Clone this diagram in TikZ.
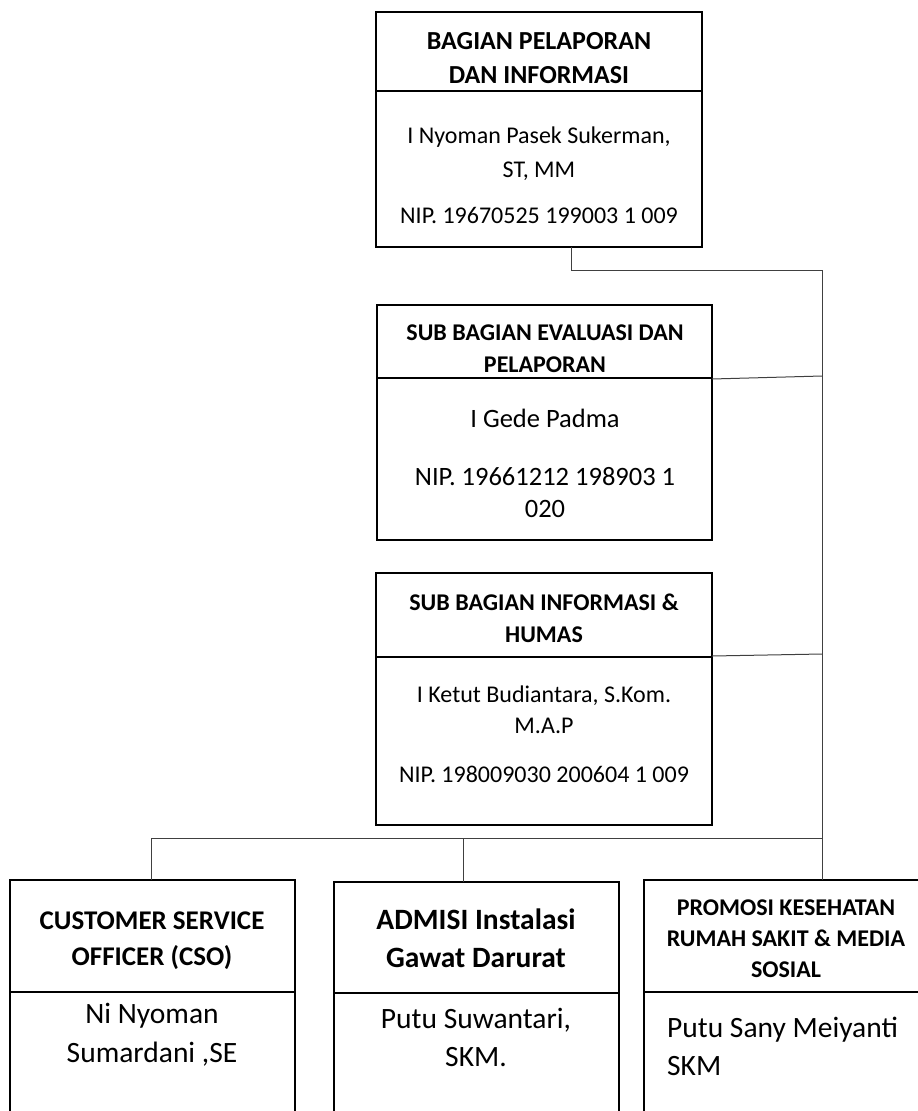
\documentclass[tikz,border=0pt]{standalone}
\usepackage{fontspec}
\setmainfont{Carlito}
\usetikzlibrary{positioning}
\tikzset{
	org chart/.cd,
	box/.style = {
		draw,
		line width = 1.8pt,
		inner sep = 0,
		outer sep = 0,
		anchor = north west
	},
	rule/.style = {
		line width = 1.2pt
	},
	link/.style = {
		line width = 1pt,
		draw = black!75
	},
	label/.style = {
		anchor = base,
		align = center,
		inner sep = 0
	},
}

\begin{document}
\begin{tikzpicture}[
		x = 1pt, y = -1pt,
		title/.style 2 args = {
			org chart/label,
			font = \fontsize{#1}{#2}\selectfont\bfseries
		},
		body/.style 2 args = {
			org chart/label,
			font = \fontsize{#1}{#2}\selectfont
		}]
		\clip (0, 0) rectangle (918, 1111);
		% boxes
		\node[org chart/box, minimum width = 326, minimum height = 235] (bagian) at (376, 12) {};
		\node[org chart/box, minimum width = 335, minimum height = 235] (evaluasi) at (377, 305) {};
		\node[org chart/box, minimum width = 336, minimum height = 252] (informasi) at (376, 573) {};
		\node[org chart/box, minimum width = 285, minimum height = 260] (cso) at (10, 880) {};
		\node[org chart/box, minimum width = 285, minimum height = 260] (admisi) at (334, 882) {};
		\node[org chart/box, minimum width = 290, minimum height = 260] (promosi) at (644, 880) {};
		\draw[org chart/rule] (bagian.west |- 0, 91) -- (bagian.east |- 0, 91);
		\draw[org chart/rule] (evaluasi.west |- 0, 378) -- (evaluasi.east |- 0, 378);
		\draw[org chart/rule] (informasi.west |- 0, 657) -- (informasi.east |- 0, 657);
		\draw[org chart/rule] (cso.west |- 0, 992) -- (cso.east |- 0, 992);
		\draw[org chart/rule] (admisi.west |- 0, 993) -- (admisi.east |- 0, 993);
		\draw[org chart/rule] (promosi.west |- 0, 992) -- (promosi.east |- 0, 992);
		% texts (base = last line)
		\node[title = {26}{34}] (bagian title) at (539, 83) {BAGIAN PELAPORAN\\DAN INFORMASI};
		\node[body = {24}{34}] (bagian name) at (539, 177) {I Nyoman Pasek Sukerman,\\ST, MM};
		\node[body = {24}{34}] (bagian nip) at (539, 223) {NIP. 19670525 199003 1 009};
		\node[title = {24}{32}] (evaluasi title) at (545, 372) {SUB BAGIAN EVALUASI DAN\\PELAPORAN};
		\node[body = {26.5}{32}] (evaluasi name) at (545, 427) {I Gede Padma};
		\node[body = {26.5}{32}] (evaluasi nip) at (545, 517) {NIP. 19661212 198903 1\\020};
		\node[title = {24}{32}] (informasi title) at (544, 642) {SUB BAGIAN INFORMASI \&\\HUMAS};
		\node[body = {24}{31}] (informasi name) at (544, 733) {I Ketut Budiantara, S.Kom.\\M.A.P};
		\node[body = {24}{31}] (informasi nip) at (544, 782) {NIP. 198009030 200604 1 009};
		\node[title = {27}{36}] (cso title) at (152, 965) {CUSTOMER SERVICE\\OFFICER (CSO)};
		\node[body = {29.5}{39}] (cso name) at (152, 1062) {Ni Nyoman\\Sumardani ,SE};
		\node[title = {29.5}{38}] (admisi title) at (476, 967) {ADMISI Instalasi\\Gawat Darurat};
		\node[body = {29.5}{38}] (admisi name) at (476, 1066) {Putu Suwantari,\\SKM.};
		\node[title = {24}{31}] (promosi title) at (786, 977) {PROMOSI KESEHATAN\\RUMAH SAKIT \& MEDIA\\SOSIAL};
		\node[body = {29.5}{38}, anchor = base west, align = left] (promosi name) at (667, 1075) {Putu Sany Meiyanti\\SKM};
		% connectors
		\coordinate (bend) at (571, 270);
		\coordinate (trunk) at (822, 270);
		\coordinate (bus) at (822, 838);
		\draw[org chart/link] (bagian.south -| bend) -- (bend) -- (trunk) -- (bus);
		\draw[org chart/link] (evaluasi.east |- 0, 379) -- (trunk |- 0, 376);
		\draw[org chart/link] (informasi.east |- 0, 656) -- (trunk |- 0, 654);
		\draw[org chart/link] (cso.north -| 151, 0) |- (bus) -- (promosi.north -| bus);
		\draw[org chart/link] (admisi.north -| 463, 0) -- (463, 838);
	\end{tikzpicture}
\end{document}
